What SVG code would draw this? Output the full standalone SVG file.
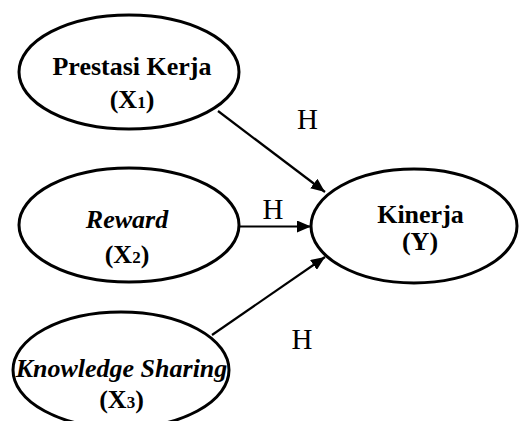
<svg xmlns="http://www.w3.org/2000/svg" width="519" height="421" viewBox="0 0 519 421">
<style>
.node{fill:#fff;stroke:#000;stroke-width:3}
.t{font-family:"Liberation Serif","Times New Roman",serif;font-weight:bold;font-size:26px;text-anchor:middle;fill:#000}
.i{font-style:italic}
.s{font-size:17px}
.h{font-family:"Liberation Serif","Times New Roman",serif;font-size:29px;text-anchor:middle;fill:#000}
.c{stroke:#000;stroke-width:2.2;fill:none}
</style>
<defs>
<marker id="ah" markerWidth="14" markerHeight="12" refX="14" refY="6" orient="auto" markerUnits="userSpaceOnUse">
<path d="M0,0 L14,6 L0,12 Z" fill="#000"/>
</marker>
</defs>
<rect width="519" height="421" fill="#fff"/>
<g id="connectors">
<line class="c" x1="218" y1="111" x2="325" y2="192" marker-end="url(#ah)"/>
<line class="c" x1="239" y1="226.5" x2="311" y2="226.5" marker-end="url(#ah)"/>
<line class="c" x1="212" y1="335" x2="325" y2="257" marker-end="url(#ah)"/>
<text class="h" x="307.5" y="129">H</text>
<text class="h" x="273" y="219">H</text>
<text class="h" x="302" y="349">H</text>
</g>
<g id="x1">
<ellipse class="node" cx="129" cy="72" rx="110" ry="57"/>
<text class="t" x="132" y="75">Prestasi Kerja</text>
<text class="t" x="132" y="108">(X<tspan class="s">1</tspan>)</text>
</g>
<g id="x2">
<ellipse class="node" cx="129" cy="225" rx="110" ry="57"/>
<text class="t i" x="127" y="228">Reward</text>
<text class="t" x="127" y="263">(X<tspan class="s">2</tspan>)</text>
</g>
<g id="x3">
<ellipse class="node" cx="121" cy="370" rx="108" ry="58"/>
<text class="t i" x="121.5" y="377">Knowledge Sharing</text>
<text class="t" x="121.5" y="408">(X<tspan class="s">3</tspan>)</text>
</g>
<g id="y">
<ellipse class="node" cx="414" cy="226" rx="103" ry="57"/>
<text class="t" x="420.5" y="223">Kinerja</text>
<text class="t" x="420" y="250">(Y)</text>
</g>
</svg>
